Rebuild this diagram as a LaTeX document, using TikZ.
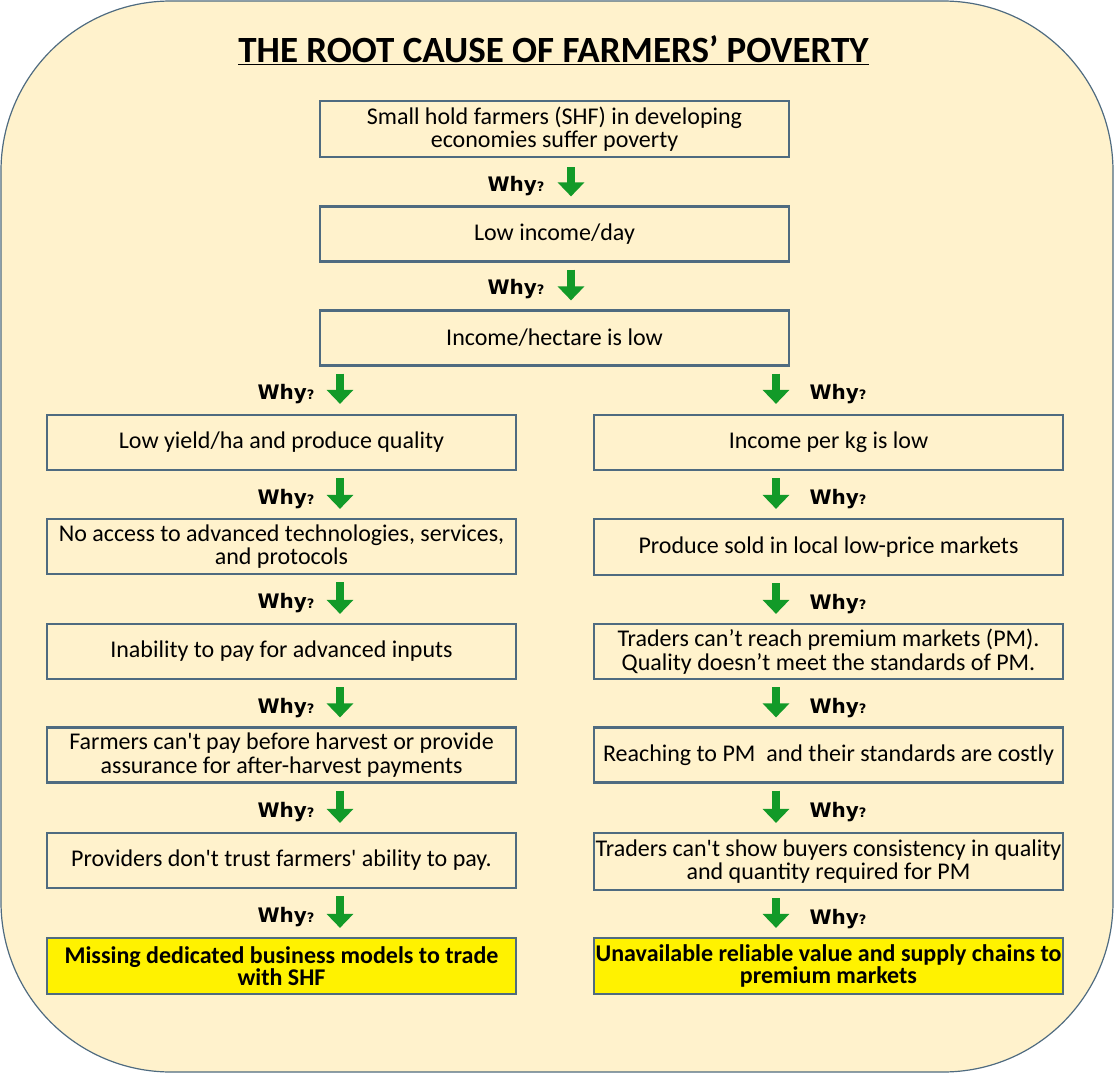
\documentclass[tikz,border=0pt]{standalone}
\usepackage{fontspec}
\setmainfont{Carlito}
\newfontfamily\whyfont{DejaVu Sans}[BoldFont={DejaVu Sans Bold}]
\usetikzlibrary{arrows.meta}
\definecolor{cream}{HTML}{FFF2CC}
\definecolor{slate}{HTML}{4F6B80}
\definecolor{arrgreen}{HTML}{129A28}
\newcommand{\whylbl}{{\whyfont\bfseries\fontsize{20}{24}\selectfont Why}{\whyfont\bfseries\fontsize{13}{15}\selectfont ?}}

\begin{document}
\begin{tikzpicture}[x=1pt,y=-1pt,
  box/.style={draw=slate,line width=2.2pt,fill=cream,minimum width=469pt,minimum height=55pt,
    align=center,inner xsep=0pt,inner ysep=2pt,font=\fontsize{24}{23.5}\selectfont},
  rootbox/.style={box,fill=yellow,font=\bfseries\fontsize{24}{22.5}\selectfont},
  whyarr/.style={draw=arrgreen,line width=8pt,-{Triangle[width=26pt,length=14pt]}}]
\useasboundingbox (0,0) rectangle (1114,1073);
\draw[slate,fill=cream,line width=1.2pt,rounded corners=170pt] (1,1) rectangle (1113,1072);
\node[font=\bfseries\fontsize{37}{42}\selectfont] (title) at (553.5,50) {\underline{THE ROOT CAUSE OF FARMERS’ POVERTY}};
% trunk
\node[box,minimum height=56pt] (b1) at (554.5,129) {Small hold farmers (SHF) in developing\\economies suffer poverty};
\node[box] (b2) at (554.5,234) {Low income/day};
\node[box] (b3) at (554.5,338) {Income/hectare is low};
% left branch
\node[box] (l1) at (281.5,442.5) {Low yield/ha and produce quality};
\node[box] (l2) at (281.5,546.5) {No access to advanced technologies, services,\\and protocols};
\node[box] (l3) at (281.5,651.5) {Inability to pay for advanced inputs};
\node[box] (l4) at (281.5,755) {Farmers can\textquotesingle t pay before harvest or provide\\assurance for after-harvest payments};
\node[box] (l5) at (281.5,860.5) {Providers don\textquotesingle t trust farmers\textquotesingle\ ability to pay.};
\node[rootbox,minimum height=56pt] (l6) at (281.5,966) {Missing dedicated business models to trade\\with SHF};
% right branch
\node[box] (r1) at (828.5,442.5) {Income per kg is low};
\node[box,minimum height=56pt] (r2) at (828.5,547) {Produce sold in local low-price markets};
\node[box] (r3) at (828.5,651.5) {Traders can’t reach premium markets (PM).\\Quality doesn’t meet the standards of PM.};
\node[box] (r4) at (828.5,755) {Reaching to PM\ \ and their standards are costly};
\node[box,minimum height=57pt] (r5) at (828.5,861.5) {Traders can\textquotesingle t show buyers consistency in quality\\and quantity required for PM};
\node[rootbox,minimum height=56pt] (r6) at (828.5,966) {Unavailable reliable value and supply chains to\\premium markets};
% why arrows
\draw[whyarr] ([xshift=16.5pt,yshift=-9pt]b1.south) -- ([xshift=16.5pt,yshift=9pt]b2.north);
\node[anchor=east] (w1) at ([xshift=-6.5pt,yshift=-28pt]b1.south) {\whylbl};
\draw[whyarr] ([xshift=16.5pt,yshift=-7pt]b2.south) -- ([xshift=16.5pt,yshift=9pt]b3.north);
\node[anchor=east] (w2) at ([xshift=-6.5pt,yshift=-26pt]b2.south) {\whylbl};
\draw[whyarr] ([xshift=-214.5pt,yshift=-7pt]b3.south) -- ([xshift=58.5pt,yshift=10pt]l1.north);
\node[anchor=east] (wl1) at ([xshift=-236.5pt,yshift=-27pt]b3.south) {\whylbl};
\draw[whyarr] ([xshift=221.5pt,yshift=-7pt]b3.south) -- ([xshift=-52.5pt,yshift=10pt]r1.north);
\node[anchor=west] (wr1) at ([xshift=251.5pt,yshift=-27pt]b3.south) {\whylbl};
\foreach \a/\b in {l1/l2,l2/l3,l3/l4,l4/l5,l5/l6}{
  \draw[whyarr] ([xshift=58.5pt,yshift=-7pt]\a.south) -- ([xshift=58.5pt,yshift=9pt]\b.north);
  \node[anchor=east] at ([xshift=36.5pt,yshift=-28pt]\a.south) {\whylbl};
}
\foreach \a/\b in {r1/r2,r2/r3,r3/r4,r4/r5,r5/r6}{
  \draw[whyarr] ([xshift=-52.5pt,yshift=-7pt]\a.south) -- ([xshift=-52.5pt,yshift=9pt]\b.north);
  \node[anchor=west] at ([xshift=-22.5pt,yshift=-28pt]\a.south) {\whylbl};
}
\end{tikzpicture}
\end{document}
